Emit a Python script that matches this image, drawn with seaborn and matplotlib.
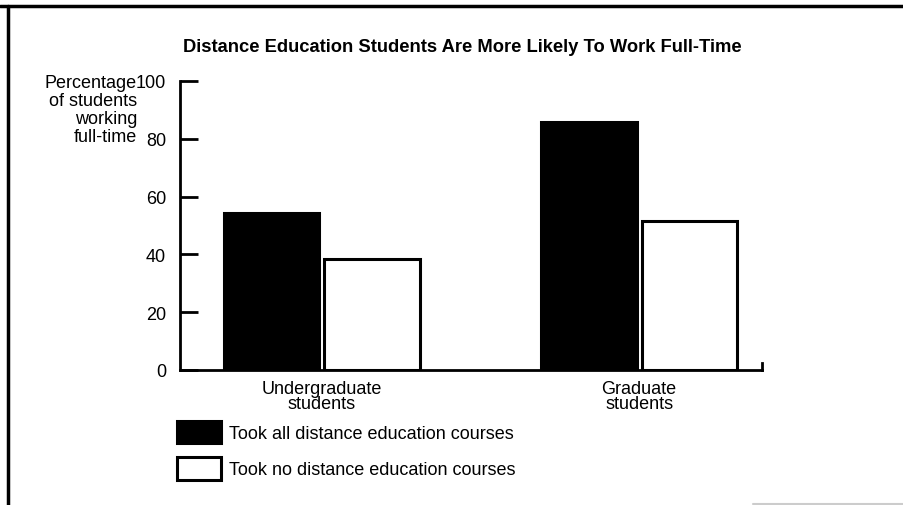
import matplotlib
matplotlib.use('Agg')
import matplotlib.pyplot as plt
import matplotlib.lines as mlines
import seaborn as sns
import pandas as pd

# Values
groups = ['Undergraduate\nstudents', 'Graduate\nstudents']
series = ['Took all distance education courses', 'Took no distance education courses']
took_all = [54.3, 85.8]
took_none = [38.4, 51.6]
y_ticks = [0, 20, 40, 60, 80, 100]

title = 'Distance Education Students Are More Likely To Work Full-Time'
y_label = 'Percentage\nof students\nworking\nfull-time'

df = pd.DataFrame({
    'group': groups * 2,
    'series': [series[0]] * 2 + [series[1]] * 2,
    'value': took_all + took_none,
})

sns.set_theme(style='white')
plt.rcParams['font.family'] = ['Liberation Sans', 'DejaVu Sans']

fig = plt.figure(figsize=(9.04, 5.06), dpi=100)
ax = fig.add_axes([180 / 904, 1 - 371 / 506, 582 / 904, 289 / 506])

sns.barplot(data=df, x='group', y='value', hue='series', hue_order=series,
            palette=['black', 'white'], edgecolor='black', linewidth=2.2,
            width=0.633, gap=0.05, ax=ax)

ax.set_xlim(-0.446, 1.387)
ax.set_ylim(0, 100)
ax.set_yticks(y_ticks)
ax.set_xlabel('')
ax.set_ylabel('')

ax.spines['top'].set_visible(False)
for side in ['left', 'bottom', 'right']:
    ax.spines[side].set_color('black')
    ax.spines[side].set_linewidth(2)
ax.spines['right'].set_bounds(0, 2.5)

ax.tick_params(axis='y', direction='in', length=13, width=2, color='black',
               left=True, pad=10, labelsize=13, labelcolor='black')
ax.tick_params(axis='x', length=0, pad=7, labelsize=13, labelcolor='black')
for lab in ax.get_xticklabels():
    lab.set_linespacing(0.9)

fig.text(462 / 904, 1 - 47 / 506, title, ha='center', va='center',
         fontsize=13.2, fontweight='bold', color='black')
fig.text(137 / 904, 1 - 75 / 506, y_label, ha='right', va='top',
         multialignment='right', fontsize=13, linespacing=1.08, color='black')

leg = ax.legend(loc='upper left', bbox_to_anchor=(177 / 904, 1 - 422 / 506),
                bbox_transform=fig.transFigure, frameon=False, fontsize=13,
                handlelength=2.45, handleheight=1.5, handletextpad=0.42,
                labelspacing=0.8, borderpad=0, borderaxespad=0,
                labelcolor='black')

# page frame from the scanned original
fig.add_artist(mlines.Line2D([0, 1], [1 - 7 / 506, 1 - 7 / 506], color='black', lw=2.5))
fig.add_artist(mlines.Line2D([8 / 904, 8 / 904], [0, 1 - 7 / 506], color='black', lw=2.5))
fig.add_artist(mlines.Line2D([753 / 904, 1], [1 - 505 / 506, 1 - 505 / 506], color='#cccccc', lw=1.5))

fig.savefig('out.png', dpi=100)
plt.close(fig)
